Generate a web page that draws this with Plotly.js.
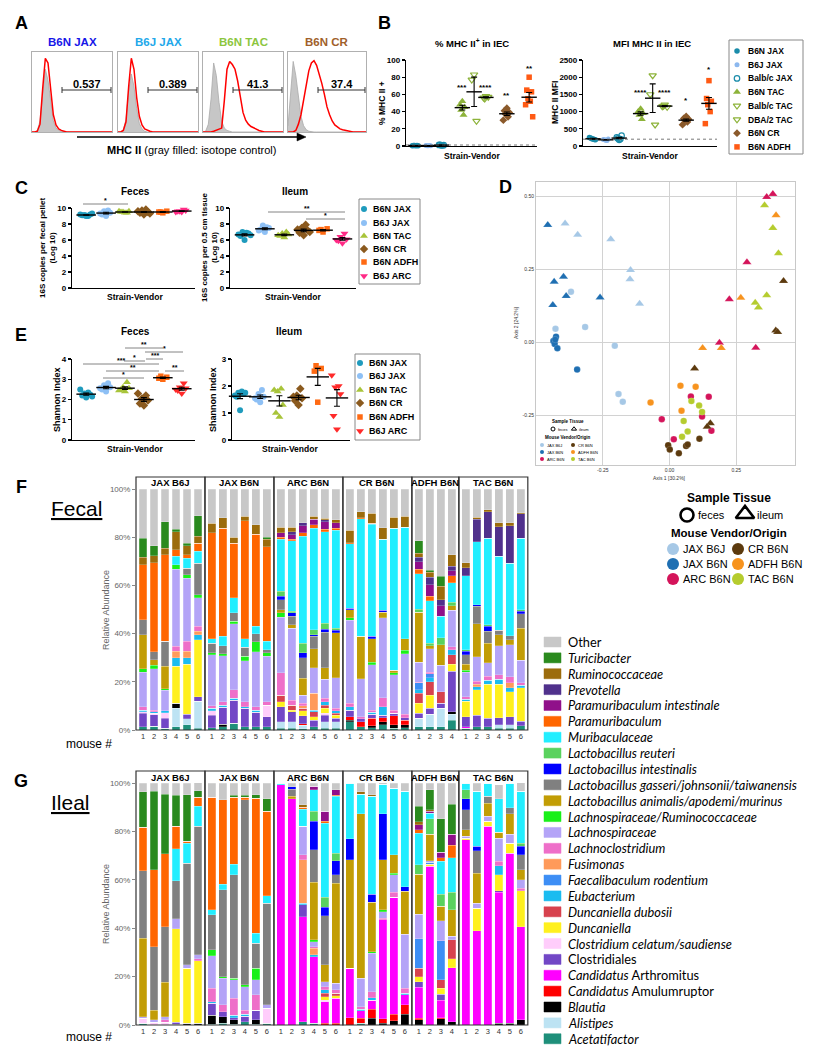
<!DOCTYPE html>
<html>
<head>
<meta charset="utf-8">
<script src="https://cdn.plot.ly/plotly-3.0.1.min.js"></script>
<style>html,body{margin:0;padding:0;background:#fff;}#fig{width:818px;height:1050px;}</style>
</head>
<body>
<div id="fig"></div>
<script>
/* ===================== DATA ===================== */
// ---- Panel A: flow histograms (relative counts per channel bin) ----
const flowChannels = [0,1,2,3,4,5,6,7,8,9,10,11,12,13,14,15,16,17,18,19,20,21,22,23,24,25,26,27,28,29,30];
const flowTitles = ['B6N JAX','B6J JAX','B6N TAC','B6N CR'];
const flowGates = ['0.537','0.389','41.3','37.4'];
const isoB6NJAX = [0,0,2,14,48,80,66,36,14,5,2,1,0,0,0,0,0,0,0,0,0,0,0,0,0,0,0,0,0,0,0];
const mhcB6NJAX = [0,0,1,10,55,94,88,52,22,9,4,2,1,0,0,0,0,0,0,0,0,0,0,0,0,0,0,0,0,0,0];
const isoB6JJAX = [0,0,3,16,52,74,58,30,11,4,1,0,0,0,0,0,0,0,0,0,0,0,0,0,0,0,0,0,0,0,0];
const mhcB6JJAX = [0,0,2,13,58,94,80,44,20,9,4,2,1,0,0,0,0,0,0,0,0,0,0,0,0,0,0,0,0,0,0];
const isoB6NTAC = [0,1,10,42,88,72,38,14,5,2,1,0,0,0,0,0,0,0,0,0,0,0,0,0,0,0,0,0,0,0,0];
const mhcB6NTAC = [0,0,0,0,1,2,3,5,40,80,90,86,80,65,45,25,15,10,7,5,3,2,1,0,0,0,0,0,0,0,0];
const isoB6NCR  = [8,45,90,72,42,20,8,3,1,0,0,0,0,0,0,0,0,0,0,0,0,0,0,0,0,0,0,0,0,0,0];
const mhcB6NCR  = [0,0,0,2,10,22,40,60,78,88,91,85,75,62,48,32,22,14,9,6,4,3,2,1,0,0,0,0,0,0,0];

// ---- Panel B ----
const bGroups = ['B6N JAX','B6J JAX','Balb/c JAX','B6N TAC','Balb/c TAC','DBA/2 TAC','B6N CR','B6N ADFH'];
const pctB6NJAX = [0.4,0.6,0.3,0.5,0.7,0.4];
const pctB6JJAX = [0.3,0.5,0.4,0.4,0.5];
const pctBalbJAX = [0.8,1.2,1.0,1.4,0.9];
const pctB6NTAC = [52,48,45,42,36];
const pctBalbTAC = [83,77,29];
const pctDBATAC = [58,56,57,55];
const pctB6NCR = [44,41,39,37,34,30];
const pctB6NADFH = [80,65,63,55,52,48,34];
const mfiB6NJAX = [200,230,180,210,190,250];
const mfiB6JJAX = [170,190,200,180,160];
const mfiBalbJAX = [180,250,300,220,200];
const mfiB6NTAC = [1080,1000,950,900,780];
const mfiBalbTAC = [2050,1500,620];
const mfiDBATAC = [1200,1150,1130,1160];
const mfiB6NCR = [860,800,780,750,700,620];
const mfiB6NADFH = [1900,1380,1300,1200,1000,650];
const pctStars = ['','','','***','','****','**','**'];
const mfiStars = ['','','','****','','****','*','*'];

// ---- Panels C and E ----
const ceGroups = ['B6N JAX','B6J JAX','B6N TAC','B6N CR','B6N ADFH','B6J ARC'];
const c16sFecesB6NJAX = [9.0,9.1,9.2,9.1,9.0,9.2,9.3,9.1];
const c16sFecesB6JJAX = [9.0,9.2,9.4,9.6,9.7,9.3];
const c16sFecesB6NTAC = [9.4,9.5,9.6,9.5,9.4,9.6];
const c16sFecesB6NCR = [9.2,9.4,9.5,9.7,9.8,9.6,9.3,9.5];
const c16sFecesB6NADFH = [9.4,9.5,9.6,9.5];
const c16sFecesB6JARC = [9.5,9.6,9.7,9.6,9.8,9.5];
const c16sIleumB6NJAX = [6.0,6.5,6.8,7.0,6.9,6.7,6.6];
const c16sIleumB6JJAX = [7.0,7.3,7.5,7.8,7.6,7.2];
const c16sIleumB6NTAC = [6.3,6.5,6.7,6.8,7.0,6.6];
const c16sIleumB6NCR = [6.6,6.9,7.2,7.5,7.9,7.3,7.0];
const c16sIleumB6NADFH = [7.0,7.2,7.4,7.3];
const c16sIleumB6JARC = [5.6,5.9,6.1,6.4,6.8,6.0];
const shanFecesB6NJAX = [2.1,2.2,2.25,2.3,2.35,2.5,2.15];
const shanFecesB6JJAX = [2.4,2.5,2.6,2.7,2.8,2.55];
const shanFecesB6NTAC = [2.4,2.5,2.55,2.6,2.85,2.45];
const shanFecesB6NCR = [1.7,1.8,1.95,2.05,2.2,2.3];
const shanFecesB6NADFH = [3.0,3.05,3.1,3.15];
const shanFecesB6JARC = [2.3,2.45,2.55,2.6,2.8,2.5];
const shanIleumB6NJAX = [1.1,1.6,1.7,1.75,1.8,1.65,1.75];
const shanIleumB6JJAX = [1.4,1.5,1.6,1.7,1.85,1.55];
const shanIleumB6NTAC = [0.85,1.0,1.3,1.8,1.9,1.85];
const shanIleumB6NCR = [1.3,1.45,1.55,1.65,1.9,1.6];
const shanIleumB6NADFH = [1.4,2.55,2.65,2.75];
const shanIleumB6JARC = [0.4,0.9,1.7,1.95,2.0,2.4];

// ---- Panel D: PCoA coordinates ----
const dGroups = ['JAX B6J','JAX B6N','ARC B6N','CR B6N','ADFH B6N','TAC B6N'];
const dJAXB6J_fecesX = [-0.369,-0.427,-0.316,-0.205,-0.191,-0.175];
const dJAXB6J_fecesY = [0.174,0.047,0.053,-0.011,-0.177,-0.203];
const dJAXB6J_ileumX = [-0.391,-0.344,-0.220,-0.146,-0.148,-0.112];
const dJAXB6J_ileumY = [0.408,0.369,0.354,0.248,0.217,0.133];
const dJAXB6N_fecesX = [-0.435,-0.430,-0.425,-0.420,-0.428,-0.346];
const dJAXB6N_fecesY = [0.005,-0.005,0.020,-0.020,0.010,-0.093];
const dJAXB6N_ileumX = [-0.456,-0.432,-0.397,-0.387,-0.437,-0.260];
const dJAXB6N_ileumY = [0.403,0.208,0.225,0.159,0.128,0.154];
const dARC_fecesX = [0.080,0.147,0.122,-0.029,0.157,0.016];
const dARC_fecesY = [-0.185,-0.186,-0.254,-0.263,-0.303,-0.332];
const dARC_ileumX = [0.364,0.387,0.290,0.224,0.187,0.323];
const dARC_ileumY = [0.499,0.509,0.275,0.148,-0.001,-0.018];
const dCR_fecesX = [0.112,-0.005,0.001,0.035,0.062,0.068];
const dCR_fecesY = [-0.330,-0.352,-0.367,-0.380,-0.355,-0.350];
const dCR_ileumX = [0.427,0.398,0.405,0.094,0.153,0.141];
const dCR_ileumY = [0.211,0.041,0.036,-0.089,-0.277,-0.289];
const dADFH_fecesX = [-0.071,0.041,0.098,0.045];
const dADFH_fecesY = [-0.206,-0.148,-0.152,-0.234];
const dADFH_ileumX = [0.399,0.267,0.124,0.194];
const dADFH_ileumY = [0.436,0.153,-0.019,-0.019];
const dTAC_fecesX = [0.082,0.111,0.122,0.053,0.068,0.047];
const dTAC_fecesY = [-0.201,-0.216,-0.238,-0.269,-0.305,-0.323];
const dTAC_ileumX = [0.356,0.387,0.408,0.364,0.321,0.333];
const dTAC_ileumY = [0.470,0.392,0.306,0.162,0.136,0.120];

// ---- Panels F / G: relative abundance (%) per mouse, stacked bottom -> top ----
const facetNames = ['JAX B6J','JAX B6N','ARC B6N','CR B6N','ADFH B6N','TAC B6N'];
const facetMice = [6,6,6,6,4,6];
const taxa = ['Acetatifactor','Alistipes','Blautia','Candidatus Amulumruptor','Candidatus Arthromitus','Clostridiales','Clostridium celatum/saudiense','Duncaniella','Duncaniella dubosii','Eubacterium','Faecalibaculum rodentium','Fusimonas','Lachnoclostridium','Lachnospiraceae','Lachnospiraceae/Ruminococcaceae','Lactobacillus animalis/apodemi/murinus','Lactobacillus gasseri/johnsonii/taiwanensis','Lactobacillus intestinalis','Lactobacillus reuteri','Muribaculaceae','Paramuribaculum','Paramuribaculum intestinale','Prevotella','Ruminococcaceae','Turicibacter','Other'];
const taxaColors = ['#1e8f7a','#bde3f3','#000000','#ff0000','#ff00ff','#7247c6','#ffcdfb','#fff01e','#d7424e','#1bbcf0','#3d8ef5','#ff9a5a','#ee6fc9','#b4a4f7','#19f019','#c29d05','#808080','#0000ff','#5ad25e','#22eeff','#ff6600','#90108a','#50318c','#9c6c0c','#2a8a1e','#c8c8c8'];

// Fecal
const fAc=[1.4,1.5,0.7,1.4,2.1,0.7, 1.0,1.4,2.8,1.4,1.4,1.4, 0.7,0.7,0.5,1.4,0.7,0.7, 3.4,1.4,1.0,2.1,0.7,1.0, 1.4,1.4,1.4,4.1, 0.7,1.4,1.4,0.7,0.7,1.8];
const fAl=[0,0,0,7.6,2.5,11.3, 0,0,0,0,0,0, 2.7,2.7,1.5,0,2.7,2.7, 0,0,0,0,0,0, 3.4,5.1,7.6,2.4, 0,0,0,1.4,1.4,0];
const fBl=[0,0,0,2.0,0,0, 0,0.9,0,0,0,0, 0,0,0,0,0,0, 0.7,0,0.8,1.3,1.4,1.1, 0,0,0,1.1, 0,0,0,0,0,0];
const fAm=[0,0,0,0,0,0, 0,0,0,0,0,0, 0,0,0.5,0,0,0, 1.4,2.0,3.0,1.7,3.8,2.0, 0,0,0,0, 0,0,0,0,0,0];
const fAr=[0,0,0,0,0,0, 0,0,0,0,0,0, 0,0,0,0,0,0, 0,0,0,0,0,0, 0,0,0,0, 0.7,0,0,0,0,0];
const fCl=[5.5,4.9,4.1,0,1.9,1.8, 5.2,7.1,9.6,7.6,5.9,4.1, 6.3,4.2,3.5,2.7,2.8,1.4, 2.8,1.2,1.7,1.1,1.0,1.0, 2.1,2.5,2.0,16.8, 4.1,4.8,3.4,3.0,3.4,1.9];
const fCc=[0.6,0.5,2.4,0,0,0, 1.7,0,0,0,0,4.8, 0,0,0,0,0.7,0, 0,0,0,0,0,0, 0,0,0,0, 0,0,0,0,0,0];
const fDu=[0,0,0,15.5,20.7,23.7, 0,0,0,0,0,0, 2.0,0.7,2.0,1.4,2.1,1.4, 0,0,0,0,0,0, 4.1,5.5,0,2.8, 6.5,10.6,14.1,13.8,10.4,13.8];
const fDd=[0,0,0,0,0,0, 0,0,0,0,0,0, 2.8,2.0,1.0,2.1,1.3,0.7, 0,0,0,0,0,0, 4.2,5.5,4.9,4.1, 0,0,0,0,0,0];
const fEu=[0.8,0.6,0.7,3.4,2.7,2.1, 1.1,0.9,0.7,0.7,1.0,0, 0,0,0,0.7,1.4,1.0, 1.4,0,0.8,3.5,0,0, 1.4,1.7,0,2.1, 0.8,1.1,1.8,2.1,1.6,1.0];
const fFa=[0,0,0,0,0,0, 0,0,0,0,0,0, 0,0,0,0,0,0, 0,0,0,0,0,0, 3.0,1.7,0,0, 0,0,0,0,0,0];
const fFu=[0,0,0,2.8,2.8,1.4, 0,0,0,0,0,0, 0,0,1.0,6.9,0,0, 0,0,0,0,0,0, 0,0,0,0, 0,1.0,0,0,2.1,0];
const fLc=[1.3,0.8,0,2.1,4.1,2.0, 1.1,1.4,3.5,2.0,1.4,1.4, 9.2,2.1,1.0,0,1.4,1.1, 1.3,0.9,1.0,3.7,1.4,1.4, 0.3,0.6,0,1.1, 1.0,1.4,1.6,2.0,2.5,1.1];
const fLa=[14.4,17.2,8.6,32.0,26.2,11.8, 21.2,19.2,27.4,17.1,22.7,18.9, 23.1,29.9,3.5,10.6,7.9,12.7, 34.5,15.7,18.7,33.1,14.7,25.2, 8.2,9.7,10.9,15.2, 10.2,10.0,5.6,12.0,13.3,9.4];
const fLR=[1.4,1.4,0.7,1.8,1.4,1.3, 0.7,0.7,1.1,1.8,4.2,1.4, 1.8,0,0,0,0,0, 1.0,0,1.1,0,0.7,1.4, 0,0,0,0, 0.8,0,0,0,0,0];
const fAn=[14.2,2.3,9.3,0,0,0, 0,0,0,0,0,0, 1.3,1.4,6.9,7.9,4.8,18.6, 3.4,17.7,9.7,2.3,1.1,4.7, 20.7,1.3,8.6,1.9, 2.4,13.8,8.0,4.6,2.1,13.3];
const fGa=[6.2,3.2,10.3,0,2.8,13.1, 3.9,3.4,3.5,3.7,3.4,1.4, 4.2,3.5,8.5,5.2,14.8,0, 0,0,0,0,0,0, 0,0,0,0, 4.1,7.2,5.1,1.8,1.7,6.0];
const fIn=[0,0,0,0,0,0, 0,0,0,0,0,0, 1.3,1.4,2.1,0.7,1.3,1.1, 0.7,0,1.1,0.9,0,0, 0,0,0,0, 1.4,0.7,2.0,0,0,0.9];
const fRe=[0,0,0,0,0,0, 0,0,0,0,0,0, 2.1,0.6,4.1,2.1,2.5,0.9, 0,0,0,0,0,0, 1.4,0.9,2.8,1.4, 0.7,0,0.7,0,0,0.7];
const fMu=[0,0,0,3.4,4.1,4.9, 2.0,3.9,6.2,3.6,3.0,3.4, 21.7,29.3,44.2,42.0,37.9,40.5, 26.6,48.7,46.5,29.5,58.9,46.3, 14.6,17.8,9.0,8.0, 30.6,26.2,35.9,30.6,30.0,29.7];
const fPm=[22.7,37.1,35.9,2.8,1.4,3.4, 44.0,44.8,22.7,48.9,38.2,39.3, 0.7,0.7,1.6,1.4,1.0,0.9, 0.6,0.5,0.4,0,0,0, 2.0,1.7,0,3.0, 0,0,0,0,0,0];
const fPi=[0,0,0,0,0,0, 0,0,0,0,0,0, 2.0,1.8,2.8,2.3,3.2,2.4, 0,0,0,0,0,0, 3.1,4.9,4.4,2.1, 0,0,0,0,0,0];
const fPr=[0,0,0,0,0,0, 0,0,0,0,0,0, 0,1.3,1.4,0,0.7,0, 0,0,0,0,0,0, 1.8,3.1,2.5,1.8, 3.4,9.2,11.0,12.4,15.5,10.1];
const fRu=[3.2,2.8,2.7,7.5,3.7,2.8, 3.9,4.4,2.4,1.8,3.9,3.1, 2.2,1.8,0,1.2,0.7,1.1, 5.0,2.5,4.1,4.8,4.6,4.5, 1.7,2.0,5.5,4.8, 2.1,0.9,0.7,1.7,1.4,0.5];
const fTu=[7.9,4.1,11.1,1.0,1.1,8.5, 0,0,0,0,0,0.7, 0,0,0,0,0,0, 0,0,0,0,0,0, 5.1,0.8,4.1,0, 0,0,0,0,0,0];
const fOt=[20.4,23.6,13.5,16.7,22.5,11.2, 14.2,11.9,20.1,11.4,14.9,20.1, 15.9,15.9,13.9,11.4,12.1,12.8, 17.2,9.4,10.1,16.0,11.7,11.4, 21.5,33.8,36.3,27.3, 30.5,11.7,8.7,13.9,13.9,9.8];

// Ileal
const gAc=[0.7,0,0,0,0,0, 0.3,0.7,0.3,1.4,0.3,0.7, 0,0,1.4,0.7,0,0, 0,0.7,0,0,0,0, 0,0,0,0, 0,0,0,0,0,0];
const gAl=[0,0,0,0,0,0, 0,0,0,0,0,0, 0,0,0,0,0,0, 0,0,0,0,0,0, 0,0,0,0, 0,0,0,0,0,0];
const gBl=[0,0,0,0.4,0.7,0.7, 3.8,2.7,1.8,0,1.8,0, 0,0,0,0,0,0, 0,0,2.8,0.7,1.7,4.4, 2.1,0,2.5,1.4, 0,0,0,0.7,0.7,2.1];
const gAm=[0,0,0,0,0,0, 0,0,0,0,0,0, 0,0,0,0,0.7,0.7, 3.0,2.1,3.8,1.8,2.7,3.9, 0.7,0,0.5,0, 0,0,0,0,0,0];
const gAr=[0,0,0,0,0,0, 0,0,0,0,0,0, 99.3,93.5,43.4,27.6,9.0,10.3, 20.4,3.0,3.7,40.9,48.3,4.1, 12.8,65.5,7.3,22.3, 76.6,38.9,82.1,54.2,70.3,38.6];
const gCl=[0,0,0,0.7,0,0, 4.9,2.1,0.9,2.3,4.1,0, 0,0,4.9,0,0,0, 0,0,0,0,0,0, 2.3,0,2.4,0, 0,0,0,0.5,0,0];
const gCc=[2.1,1.1,1.1,0,0,0, 0,0,0,0,0,6.2, 0,0,0,0,0.6,0, 0,0,0,0,0,0, 0,0,0,0, 0,0,0,0,0,0];
const gDu=[0,0,0,38.6,22.7,25.8, 0,0,0,0,0,0, 0,0,0,0,1.4,1.1, 0,0,0,0,0,0, 2.1,1.0,2.5,3.6, 0.6,9.4,2.0,6.7,4.2,14.7];
const gDd=[0,0,0,0,0,0, 0,0,0,0,0,0, 0,0,0,0,1.4,1.0, 0,0,0,0,0,0, 3.4,0,3.4,7.9, 0,0,0,0,0,0];
const gEu=[0,0,0,0,0,0, 0.7,0,1.1,0.7,0,0, 0,0,0.6,0.7,1.4,0, 0,0.8,1.0,0,0,0.7, 0,0,0,0, 0,0,0,3.8,0,0];
const gFa=[0,0,0,0,0,0, 0,0,0,0,0,0, 0,0,0,0,0,0, 0,0,0,0,0,0, 12.2,0.7,16.2,0, 0,0,0,0,0,0];
const gFu=[0,0,0,0,0,0, 0,0,0,0,0,0, 0,0,18.0,2.7,0,0, 0,0,0,0,0,0, 0,0,0,0, 0,0,0,0,0,0];
const gLc=[0,0,1.0,0,0,0.8, 5.5,2.8,6.9,1.8,6.2,0, 0,0,2.0,0.7,1.4,1.4, 0,1.0,2.5,0.7,2.2,2.1, 0,0,0,0, 0,0,0,1.7,0,1.2];
const gLa=[0.6,1.0,1.3,4.2,1.4,1.7, 13.5,11.0,7.6,9.7,6.2,1.4, 0,0,11.8,2.1,2.0,2.7, 0,11.7,15.9,2.8,7.2,22.3, 10.2,0.7,8.2,1.4, 0.7,2.0,2.1,9.6,3.7,3.4];
const gLR=[0,0,0,0,0,0, 2.3,0.7,0.7,0.7,4.8,0, 0,0,0,0.7,0,0, 0,0,0.6,0.7,0.6,0, 0,0,0,0, 0,0,0,0,0,0];
const gAn=[32.5,4.1,14.3,0,0,0, 0,0,0,0,0,0, 0,1.0,0,23.8,6.9,41.4, 44.9,67.9,20.5,20.7,7.6,17.7, 16.5,11.0,6.0,11.0, 2.8,12.5,5.5,2.5,8.3,4.1];
const gGa=[27.8,26.2,23.0,15.8,42.1,53.1, 14.5,35.9,42.8,76.5,10.4,42.0, 0,3.0,0,13.4,20.4,3.5, 0,0,0,0,0,0, 0,0,0,0, 8.3,9.2,2.8,0,2.5,6.2];
const gIn=[0,0,0,0,0,0, 0,0,0,0,0,0, 0,1.0,0,11.7,3.4,5.8, 8.7,0,3.3,18.9,0,2.0, 0,0,0,0, 4.5,1.8,0,0,0,3.5];
const gRe=[0,0,0,0,0,0, 0,0,0,0,0,0, 0,0,0,4.2,4.1,3.1, 0,0,0,0,0,0, 3.9,6.3,5.1,7.3, 3.7,0,0,0,0,1.4];
const gMu=[0,0,0,13.1,8.3,8.2, 2.1,2.3,4.4,0,4.1,3.1, 0.7,0,7.1,8.9,30.7,23.5, 23.0,8.2,40.4,12.3,27.6,39.4, 13.1,2.4,13.5,14.3, 2.8,22.8,5.5,13.7,10.3,21.4];
const gPm=[18.0,31.7,30.1,9.3,0.7,3.8, 46.5,34.9,27.6,1.0,55.9,34.9, 0,0,0.7,0,0.7,0.4, 0,0,0,0,0,0, 1.4,0,1.6,5.0, 0,0,0,0,0,0];
const gPi=[0,0,0,0,0,0, 0,0,0,0,0,0, 0,0,0,1.4,4.2,2.3, 0,0,0,0,0,0, 2.1,0.7,2.2,4.7, 0,0,0,0,0,0];
const gPr=[0,0,0,0,0,0, 0,0,0,0,0,0, 0,0,0,0,0,0, 0,0,0,0,0,0, 0,0,0,0, 0,0,0,0,0,0];
const gRu=[0,0,0,0,0,0, 0,0,0,0,0,0, 0,0,1.1,0,0,0, 0,0.9,0.7,0,0,0, 1.1,0.7,0,0, 0,0,0,0,0,0];
const gTu=[14.6,32.5,24.6,12.8,19.3,2.7, 0,0,0.8,0.8,1.4,5.2, 0,0,0,0,0,0, 0,0,0,0,0,0, 6.4,8.2,13.8,12.4, 0,0,0,0,0,0];
const gOt=[3.7,3.4,4.6,5.1,4.8,4.0, 5.9,6.9,5.1,5.1,4.8,6.5, 0,1.5,9.0,1.4,11.7,2.8, 0,3.7,4.8,0.7,2.1,3.4, 9.7,2.8,14.8,8.7, 0,3.4,0,5.9,0,3.5];

/* ===================== BUILD ===================== */
const W=818,H=1050;
const PX=x=>x/W, PY=y=>1-y/H;
const xdom=(a,b)=>[a/W,b/W], ydom=(t,b)=>[1-b/H,1-t/H];
const FONT='Liberation Sans, Arial, sans-serif';
const traces=[], ann=[], shp=[];
const layout={width:W,height:H,margin:{l:0,r:0,t:0,b:0},paper_bgcolor:'#ffffff',plot_bgcolor:'rgba(0,0,0,0)',
  showlegend:false,barmode:'stack',bargap:0,font:{family:FONT,color:'#000',size:10},annotations:ann,shapes:shp};

function T(x,y,text,o){o=o||{};ann.push({x:PX(x),y:PY(y),xref:'paper',yref:'paper',text:text,showarrow:false,
  xanchor:o.xa||'center',yanchor:o.ya||'middle',textangle:o.angle||0,borderpad:0,
  font:{family:o.family||FONT,size:o.size||10,color:o.color||'#000',weight:o.weight||'normal'}});}
function L(x0,y0,x1,y1,o){o=o||{};shp.push({type:'line',xref:'paper',yref:'paper',x0:PX(x0),y0:PY(y0),x1:PX(x1),y1:PY(y1),
  line:{color:o.color||'#000',width:o.width||1,dash:o.dash||'solid'}});}
function R(x0,y0,x1,y1,o){o=o||{};shp.push({type:'rect',xref:'paper',yref:'paper',x0:PX(x0),y0:PY(y0),x1:PX(x1),y1:PY(y1),
  line:{color:o.line||'#000',width:o.lw==null?1:o.lw},fillcolor:o.fill||'rgba(0,0,0,0)',layer:o.layer||'above'});}
function setAx(i,xd,yd,xr,yr,xo,yo){
  const base={showgrid:false,zeroline:false,showticklabels:false,ticks:'',showline:false,fixedrange:true};
  layout['xaxis'+(i===1?'':i)]=Object.assign({},base,{domain:xd,range:xr,anchor:'y'+(i===1?'':i)},xo||{});
  layout['yaxis'+(i===1?'':i)]=Object.assign({},base,{domain:yd,range:yr,anchor:'x'+(i===1?'':i)},yo||{});
}
const axId=i=>i===1?'':String(i);

// ---------- Panel A ----------
const flowBoxes=[[32,112],[118,198],[203,283],[288,366]];
const flowColors=['#1616e8','#22a8ea','#8cc63e','#a0602a'];
const isoList=[isoB6NJAX,isoB6JJAX,isoB6NTAC,isoB6NCR];
const mhcList=[mhcB6NJAX,mhcB6JJAX,mhcB6NTAC,mhcB6NCR];
flowBoxes.forEach((b,k)=>{
  const i=k+1;
  setAx(i,xdom(b[0],b[1]),ydom(52,132),[0,30],[0,102],
    {showline:true,mirror:true,linecolor:'#b0b0b0',linewidth:1},
    {showline:true,mirror:true,linecolor:'#b0b0b0',linewidth:1});
  traces.push({type:'scatter',mode:'lines',x:flowChannels,y:isoList[k],fill:'tozeroy',fillcolor:'#c6c6c6',
    line:{color:'#aaaaaa',width:0.8},xaxis:'x'+axId(i),yaxis:'y'+axId(i),hoverinfo:'skip'});
  traces.push({type:'scatter',mode:'lines',x:flowChannels,y:mhcList[k],line:{color:'#ff0000',width:1.5},
    xaxis:'x'+axId(i),yaxis:'y'+axId(i),hoverinfo:'skip'});
  T((b[0]+b[1])/2,42,flowTitles[k],{size:11.5,weight:'bold',color:flowColors[k]});
  const g0=b[0]+30, g1=b[1]-1;
  L(g0,90,g1,90,{width:1,color:'#333'}); L(g0,87,g0,93,{color:'#333'}); L(g1,87,g1,93,{color:'#333'});
  T((g0+g1)/2,84,flowGates[k],{size:11,weight:'bold'});
});
// axis arrow under the histograms
L(77,137,299,137,{width:1.4});
shp.push({type:'path',xref:'paper',yref:'paper',
  path:'M '+PX(306)+' '+PY(137)+' L '+PX(297)+' '+PY(133)+' L '+PX(297)+' '+PY(141)+' Z',
  fillcolor:'#000',line:{color:'#000',width:0.5}});
T(191,150,'<b>MHC II</b> (gray filled: isotope control)',{size:11});

// ---------- helpers for dot plots ----------
const JIT=[0,-0.6,0.6,-0.3,0.3,-0.9,0.9,-0.15,0.45,-0.45];
function groupTraces(i,pos,groups,styles,spread,meanSize){
  const xa='x'+axId(i), ya='y'+axId(i); const mx=[],my=[],me=[];
  groups.forEach((vals,g)=>{
    const st=styles[g]; const open=st.symbol.indexOf('open')>=0;
    traces.push({type:'scatter',mode:'markers',x:vals.map((v,j)=>pos[g]+JIT[j%JIT.length]*spread),y:vals,
      xaxis:xa,yaxis:ya,cliponaxis:false,hoverinfo:'skip',
      marker:{symbol:st.symbol,size:st.size,color:st.color,line:{color:st.color,width:open?1.2:0}}});
    const n=vals.length, m=vals.reduce((s,v)=>s+v,0)/n;
    const sd=Math.sqrt(vals.reduce((s,v)=>s+(v-m)*(v-m),0)/(n-1));
    mx.push(pos[g]); my.push(m); me.push(sd/Math.sqrt(n));
  });
  traces.push({type:'scatter',mode:'markers',x:mx,y:my,xaxis:xa,yaxis:ya,cliponaxis:false,hoverinfo:'skip',
    marker:{symbol:'line-ew',size:meanSize||13,color:'#000',line:{color:'#000',width:1.4}},
    error_y:{type:'data',array:me,visible:true,color:'#000',thickness:1.1,width:3}});
}
const tickFontB={family:FONT,size:8,weight:'bold',color:'#000'};
function dotAxes(i,xd,yd,xr,yr,tv){
  setAx(i,xd,yd,xr,yr,{showline:true,linecolor:'#000',linewidth:1.2},
    {showline:true,linecolor:'#000',linewidth:1.2,ticks:'outside',ticklen:3,tickwidth:1.2,tickcolor:'#000',
     showticklabels:true,tickvals:tv,tickfont:tickFontB});
}

// ---------- Panel B ----------
const bPos=[0.75,1.7,2.7,4.3,5.2,6.1,7.7,9.4];
const bStyles=[{symbol:'circle',color:'#1a8caa',size:5.5},{symbol:'circle',color:'#8cb8ee',size:5},
  {symbol:'circle-open',color:'#1a8caa',size:5.5},{symbol:'triangle-up',color:'#8db33a',size:7},
  {symbol:'triangle-down-open',color:'#8db33a',size:6.5},{symbol:'triangle-down-open',color:'#8db33a',size:6.5},
  {symbol:'diamond',color:'#8b5a2b',size:6},{symbol:'square',color:'#ff5a14',size:5.5}];
dotAxes(5,xdom(406,537),ydom(60,146),[0,10],[0,100],[0,20,40,60,80,100]);
dotAxes(6,xdom(583,717),ydom(60,146),[0,10],[0,2500],[0,500,1000,1500,2000,2500]);
L(406,145,537,145,{dash:'dot',color:'#555',width:0.8});
L(583,139.2,717,139.2,{dash:'dot',color:'#555',width:0.8});
groupTraces(5,bPos,[pctB6NJAX,pctB6JJAX,pctBalbJAX,pctB6NTAC,pctBalbTAC,pctDBATAC,pctB6NCR,pctB6NADFH],bStyles,0.3,11);
groupTraces(6,bPos,[mfiB6NJAX,mfiB6JJAX,mfiBalbJAX,mfiB6NTAC,mfiBalbTAC,mfiDBATAC,mfiB6NCR,mfiB6NADFH],bStyles,0.3,11);
const pctStarY=[0,0,0,88,0,88,95,68], mfiStarY=[0,0,0,93,0,93,100,70];
bPos.forEach((p,g)=>{
  if(pctStars[g]) T(406+p*13.1,pctStarY[g],pctStars[g],{size:8,weight:'bold'});
  if(mfiStars[g]) T(583+p*13.4,mfiStarY[g],mfiStars[g],{size:8,weight:'bold'});
});
T(472,43,'% MHC II<sup>+</sup> in IEC',{size:9.5,weight:'bold'});
T(652,43,'MFI MHC II in IEC',{size:9.5,weight:'bold'});
T(382,103,'% MHC II +',{size:8.5,weight:'bold',angle:-90});
T(555,103,'MHC II MFI',{size:8.5,weight:'bold',angle:-90});
T(472,156,'Strain-Vendor',{size:8.5,weight:'bold'});
T(650,156,'Strain-Vendor',{size:8.5,weight:'bold'});
R(729,40,803,154,{line:'#888',lw:1});
bGroups.forEach((g,k)=>T(747,51+13.7*k,g,{size:8.5,weight:'bold',xa:'left'}));

// ---------- Panels C and E ----------
const cPos=[0.75,1.8,2.8,3.8,4.8,5.8];
const cStyles=[{symbol:'circle',color:'#1f9bbd',size:6},{symbol:'circle',color:'#8ec0f5',size:6},
  {symbol:'triangle-up',color:'#a8c43a',size:7},{symbol:'diamond',color:'#8b5a1e',size:6.5},
  {symbol:'square',color:'#ff6a13',size:5.5},{symbol:'triangle-down',color:'#ff2a85',size:7}];
const eStyles=cStyles.slice(0,5).concat([{symbol:'triangle-down',color:'#ff2a2a',size:7}]);
dotAxes(7,xdom(72,195),ydom(208,288),[0,6.5],[0,10],[0,2,4,6,8,10]);
dotAxes(8,xdom(230,356),ydom(208,288),[0,6.5],[0,10],[0,2,4,6,8,10]);
dotAxes(9,xdom(72,195),ydom(359,440),[0,6.5],[0,4],[0,1,2,3,4]);
dotAxes(10,xdom(232,350),ydom(359,440),[0.33,6.48],[0,3],[0,1,2,3]);
groupTraces(7,cPos,[c16sFecesB6NJAX,c16sFecesB6JJAX,c16sFecesB6NTAC,c16sFecesB6NCR,c16sFecesB6NADFH,c16sFecesB6JARC],cStyles,0.35,14);
groupTraces(8,cPos,[c16sIleumB6NJAX,c16sIleumB6JJAX,c16sIleumB6NTAC,c16sIleumB6NCR,c16sIleumB6NADFH,c16sIleumB6JARC],cStyles,0.35,14);
groupTraces(9,cPos,[shanFecesB6NJAX,shanFecesB6JJAX,shanFecesB6NTAC,shanFecesB6NCR,shanFecesB6NADFH,shanFecesB6JARC],eStyles,0.35,14);
groupTraces(10,cPos,[shanIleumB6NJAX,shanIleumB6JJAX,shanIleumB6NTAC,shanIleumB6NCR,shanIleumB6NADFH,shanIleumB6JARC],eStyles,0.3,16);
T(135,192,'Feces',{size:10,weight:'bold'}); T(295,192,'Ileum',{size:10,weight:'bold'});
T(135,331,'Feces',{size:10,weight:'bold'}); T(289,331,'Ileum',{size:10,weight:'bold'});
T(135,297,'Strain-Vendor',{size:8.5,weight:'bold'}); T(293,297,'Strain-Vendor',{size:8.5,weight:'bold'});
T(135,449,'Strain-Vendor',{size:8.5,weight:'bold'}); T(290,449,'Strain-Vendor',{size:8.5,weight:'bold'});
T(48,248,'16S copies per fecal pellet<br>(Log 10)',{size:8,weight:'bold',angle:-90});
T(210,248,'16S copies per 0.5 cm tissue<br>(Log 10)',{size:8,weight:'bold',angle:-90});
T(57,400,'Shannon Index',{size:9,weight:'bold',angle:-90});
T(213,400,'Shannon Index',{size:9,weight:'bold',angle:-90});
// significance bars
const sig=[[83,128,204,'*'],[268,345,212,'**'],[306,345,219,'*'],
  [125,163,348,'**'],[145,183,352,'*'],[146,163,359,'***'],[124,145,361,'*'],[83,159,364,'***'],
  [106,159,371,'**'],[165,184,371,'**'],[103,144,378,'*']];
sig.forEach(s=>{L(s[0],s[2],s[1],s[2],{color:'#666',width:0.8}); T((s[0]+s[1])/2,s[2]-3.5,s[3],{size:7,weight:'bold'});});
R(359,199,420,284,{line:'#888',lw:1});
R(355,354,420,440,{line:'#888',lw:1});
const cLegY=[209,223,236,249,262,276], eLegY=[363,376,390,403,417,431];
ceGroups.forEach((g,k)=>{T(372,cLegY[k],g,{size:9,weight:'bold',xa:'left'}); T(368,eLegY[k],g,{size:9,weight:'bold',xa:'left'});});

// ---------- Panel D ----------
const dColors=['#a6c8e6','#1f6fb2','#d4145a','#5c3a0e','#f7931e','#b5cc2e'];
setAx(11,xdom(536,795),ydom(182,465),[-0.5,0.47],[-0.42,0.55],
  {showgrid:true,gridcolor:'#d2d2d2',gridwidth:1,tickvals:[-0.25,0,0.25],ticktext:['-0.25','0.00','0.25'],
   showticklabels:true,tickfont:{size:5,color:'#333',family:FONT},showline:true,mirror:true,linecolor:'#c8c8c8'},
  {showgrid:true,gridcolor:'#d2d2d2',gridwidth:1,tickvals:[-0.25,0,0.25,0.5],ticktext:['-0.25','0.00','0.25','0.50'],
   showticklabels:true,tickfont:{size:5,color:'#333',family:FONT},showline:true,mirror:true,linecolor:'#c8c8c8'});
const dFeces=[[dJAXB6J_fecesX,dJAXB6J_fecesY],[dJAXB6N_fecesX,dJAXB6N_fecesY],[dARC_fecesX,dARC_fecesY],
  [dCR_fecesX,dCR_fecesY],[dADFH_fecesX,dADFH_fecesY],[dTAC_fecesX,dTAC_fecesY]];
const dIleum=[[dJAXB6J_ileumX,dJAXB6J_ileumY],[dJAXB6N_ileumX,dJAXB6N_ileumY],[dARC_ileumX,dARC_ileumY],
  [dCR_ileumX,dCR_ileumY],[dADFH_ileumX,dADFH_ileumY],[dTAC_ileumX,dTAC_ileumY]];
dFeces.forEach((d,k)=>traces.push({type:'scatter',mode:'markers',x:d[0],y:d[1],xaxis:'x11',yaxis:'y11',hoverinfo:'skip',
  marker:{symbol:'circle',size:6.5,color:dColors[k],line:{color:'rgba(255,255,255,0.5)',width:0.3}}}));
dIleum.forEach((d,k)=>traces.push({type:'scatter',mode:'markers',x:d[0],y:d[1],xaxis:'x11',yaxis:'y11',hoverinfo:'skip',
  marker:{symbol:'triangle-up',size:8,color:dColors[k],line:{color:'rgba(255,255,255,0.5)',width:0.3}}}));
T(669,478,'Axis 1 [30.2%]',{size:5,color:'#333'});
T(516,323,'Axis 2 [24.2%]',{size:5,color:'#333',angle:-90});
// inset legend
T(568,421,'Sample Tissue',{size:4.5,weight:'bold'});
T(557,429,'feces',{size:4,xa:'left'}); T(578,429,'ileum',{size:4,xa:'left'});
T(568,437,'Mouse Vendor/Origin',{size:4.5,weight:'bold'});
[0,1,2].forEach(r=>{T(546,445+7*r,dGroups[r],{size:4,xa:'left'}); T(577,445+7*r,dGroups[r+3],{size:4,xa:'left'});});
// main legend
T(729,498,'Sample Tissue',{size:12,weight:'bold'});
T(697,515,'feces',{size:11,xa:'left'}); T(756,515,'ileum',{size:11,xa:'left'});
T(729,533,'Mouse Vendor/Origin',{size:11.5,weight:'bold'});
[0,1,2].forEach(r=>{T(682,549+15*r,dGroups[r],{size:11,xa:'left'}); T(747,549+15*r,dGroups[r+3],{size:11,xa:'left'});});

// ---------- Panels F and G ----------
const PITCH=11, PAD=0.135;
const barX=[], mouseLbl=[], facetEdges=[0];
let cur=0;
facetMice.forEach(n=>{for(let j=0;j<n;j++){barX.push(cur+PAD+0.5+j); mouseLbl.push(String(j+1));} cur+=n+2*PAD; facetEdges.push(cur);});
const totalUnits=cur;
const x0F=136, x1F=136+totalUnits*PITCH;
const yAxF={tickvals:[0,20,40,60,80,100],ticktext:['0%','20%','40%','60%','80%','100%'],showticklabels:true,
  ticks:'outside',ticklen:3,tickcolor:'#888',tickfont:{size:8,color:'#666',family:FONT}};
const xAxF={tickvals:barX,ticktext:mouseLbl,showticklabels:true,tickfont:{size:7.5,color:'#333',family:FONT}};
setAx(12,xdom(x0F,x1F),ydom(489,730),[0,totalUnits],[0,100],xAxF,yAxF);
setAx(13,xdom(x0F,x1F),ydom(783,1025),[0,totalUnits],[0,100],xAxF,yAxF);
const fecal=[fAc,fAl,fBl,fAm,fAr,fCl,fCc,fDu,fDd,fEu,fFa,fFu,fLc,fLa,fLR,fAn,fGa,fIn,fRe,fMu,fPm,fPi,fPr,fRu,fTu,fOt];
const ileal=[gAc,gAl,gBl,gAm,gAr,gCl,gCc,gDu,gDd,gEu,gFa,gFu,gLc,gLa,gLR,gAn,gGa,gIn,gRe,gMu,gPm,gPi,gPr,gRu,gTu,gOt];
[[fecal,'12'],[ileal,'13']].forEach(([set,id])=>{
  set.forEach((vals,t)=>traces.push({type:'bar',x:barX,y:vals,width:0.72,xaxis:'x'+id,yaxis:'y'+id,hoverinfo:'skip',
    marker:{color:taxaColors[t],line:{color:'rgba(255,255,255,0.55)',width:0.4}}}));
});
[[477,730,483],[771,1025,777]].forEach(([top,bot,hy])=>{
  facetNames.forEach((nm,f)=>{
    const a=x0F+facetEdges[f]*PITCH, b=x0F+facetEdges[f+1]*PITCH;
    R(a,top,b,bot,{line:'#333',lw:1.2});
    T((a+b)/2,hy,nm,{size:9.5,weight:'bold'});
  });
});
T(106,610,'Relative Abundance',{size:9,color:'#666',angle:-90});
T(106,904,'Relative Abundance',{size:9,color:'#666',angle:-90});
T(113,744,'mouse #',{size:12,xa:'right'}); T(113,1037,'mouse #',{size:12,xa:'right'});
T(50,508,'<u>Fecal</u>',{size:21,xa:'left'}); T(50,802,'<u>Ileal</u>',{size:21,xa:'left'});
// taxa legend (top to bottom = Other ... Acetatifactor)
for(let i=0;i<taxa.length;i++){
  const t=taxa.length-1-i, y=642+i*15.87, nm=taxa[t];
  let lab;
  if(nm==='Other'||nm==='Clostridiales') lab=nm;
  else if(nm.indexOf('Candidatus ')===0) lab='<i>Candidatus</i> '+nm.slice(11);
  else lab='<i>'+nm+'</i>';
  R(544,y-5,561,y+5,{fill:taxaColors[t],line:taxaColors[t],lw:0.5});
  T(567,y,lab,{size:12.8,xa:'left',family:'Lato, Open Sans, sans-serif'});
}

// ---------- panel letters ----------
[['A',21,23],['B',384,23],['C',21,188],['D',505,187],['E',21,335],['F',21,487],['G',21,781]]
  .forEach(l=>T(l[1],l[2],l[0],{size:18,weight:'bold'}));

// ---------- overlay pixel axis for legend symbols ----------
setAx(14,[0,1],[0,1],[0,W],[H,0],{visible:false},{visible:false});
function sym(xs,ys,symbol,size,color,lw){traces.push({type:'scatter',mode:'markers',x:xs,y:ys,xaxis:'x14',yaxis:'y14',
  cliponaxis:false,hoverinfo:'skip',marker:{symbol:symbol,size:size,color:color,line:{color:color,width:lw||0}}});}
bStyles.forEach((s,k)=>sym([737],[51+13.7*k],s.symbol,s.size,s.color,s.symbol.indexOf('open')>=0?1.2:0));
cStyles.forEach((s,k)=>sym([364],[cLegY[k]],s.symbol,s.size,s.color,0));
eStyles.forEach((s,k)=>sym([360],[eLegY[k]],s.symbol,s.size,s.color,0));
sym([553],[429],'circle-open',4,'#000',1); sym([574],[429],'triangle-up-open',4.5,'#000',1);
[0,1,2].forEach(r=>{sym([542],[445+7*r],'circle',4,dColors[r]); sym([573],[445+7*r],'circle',4,dColors[r+3]);});
sym([687],[515],'circle-open',13,'#000',2.6); sym([745],[514],'triangle-up-open',16,'#000',2.6);
[0,1,2].forEach(r=>{sym([673],[549+15*r],'circle',12,dColors[r]); sym([738],[549+15*r],'circle',12,dColors[r+3]);});

Plotly.newPlot('fig',traces,layout,{displayModeBar:false,staticPlot:true});
</script>
</body>
</html>
